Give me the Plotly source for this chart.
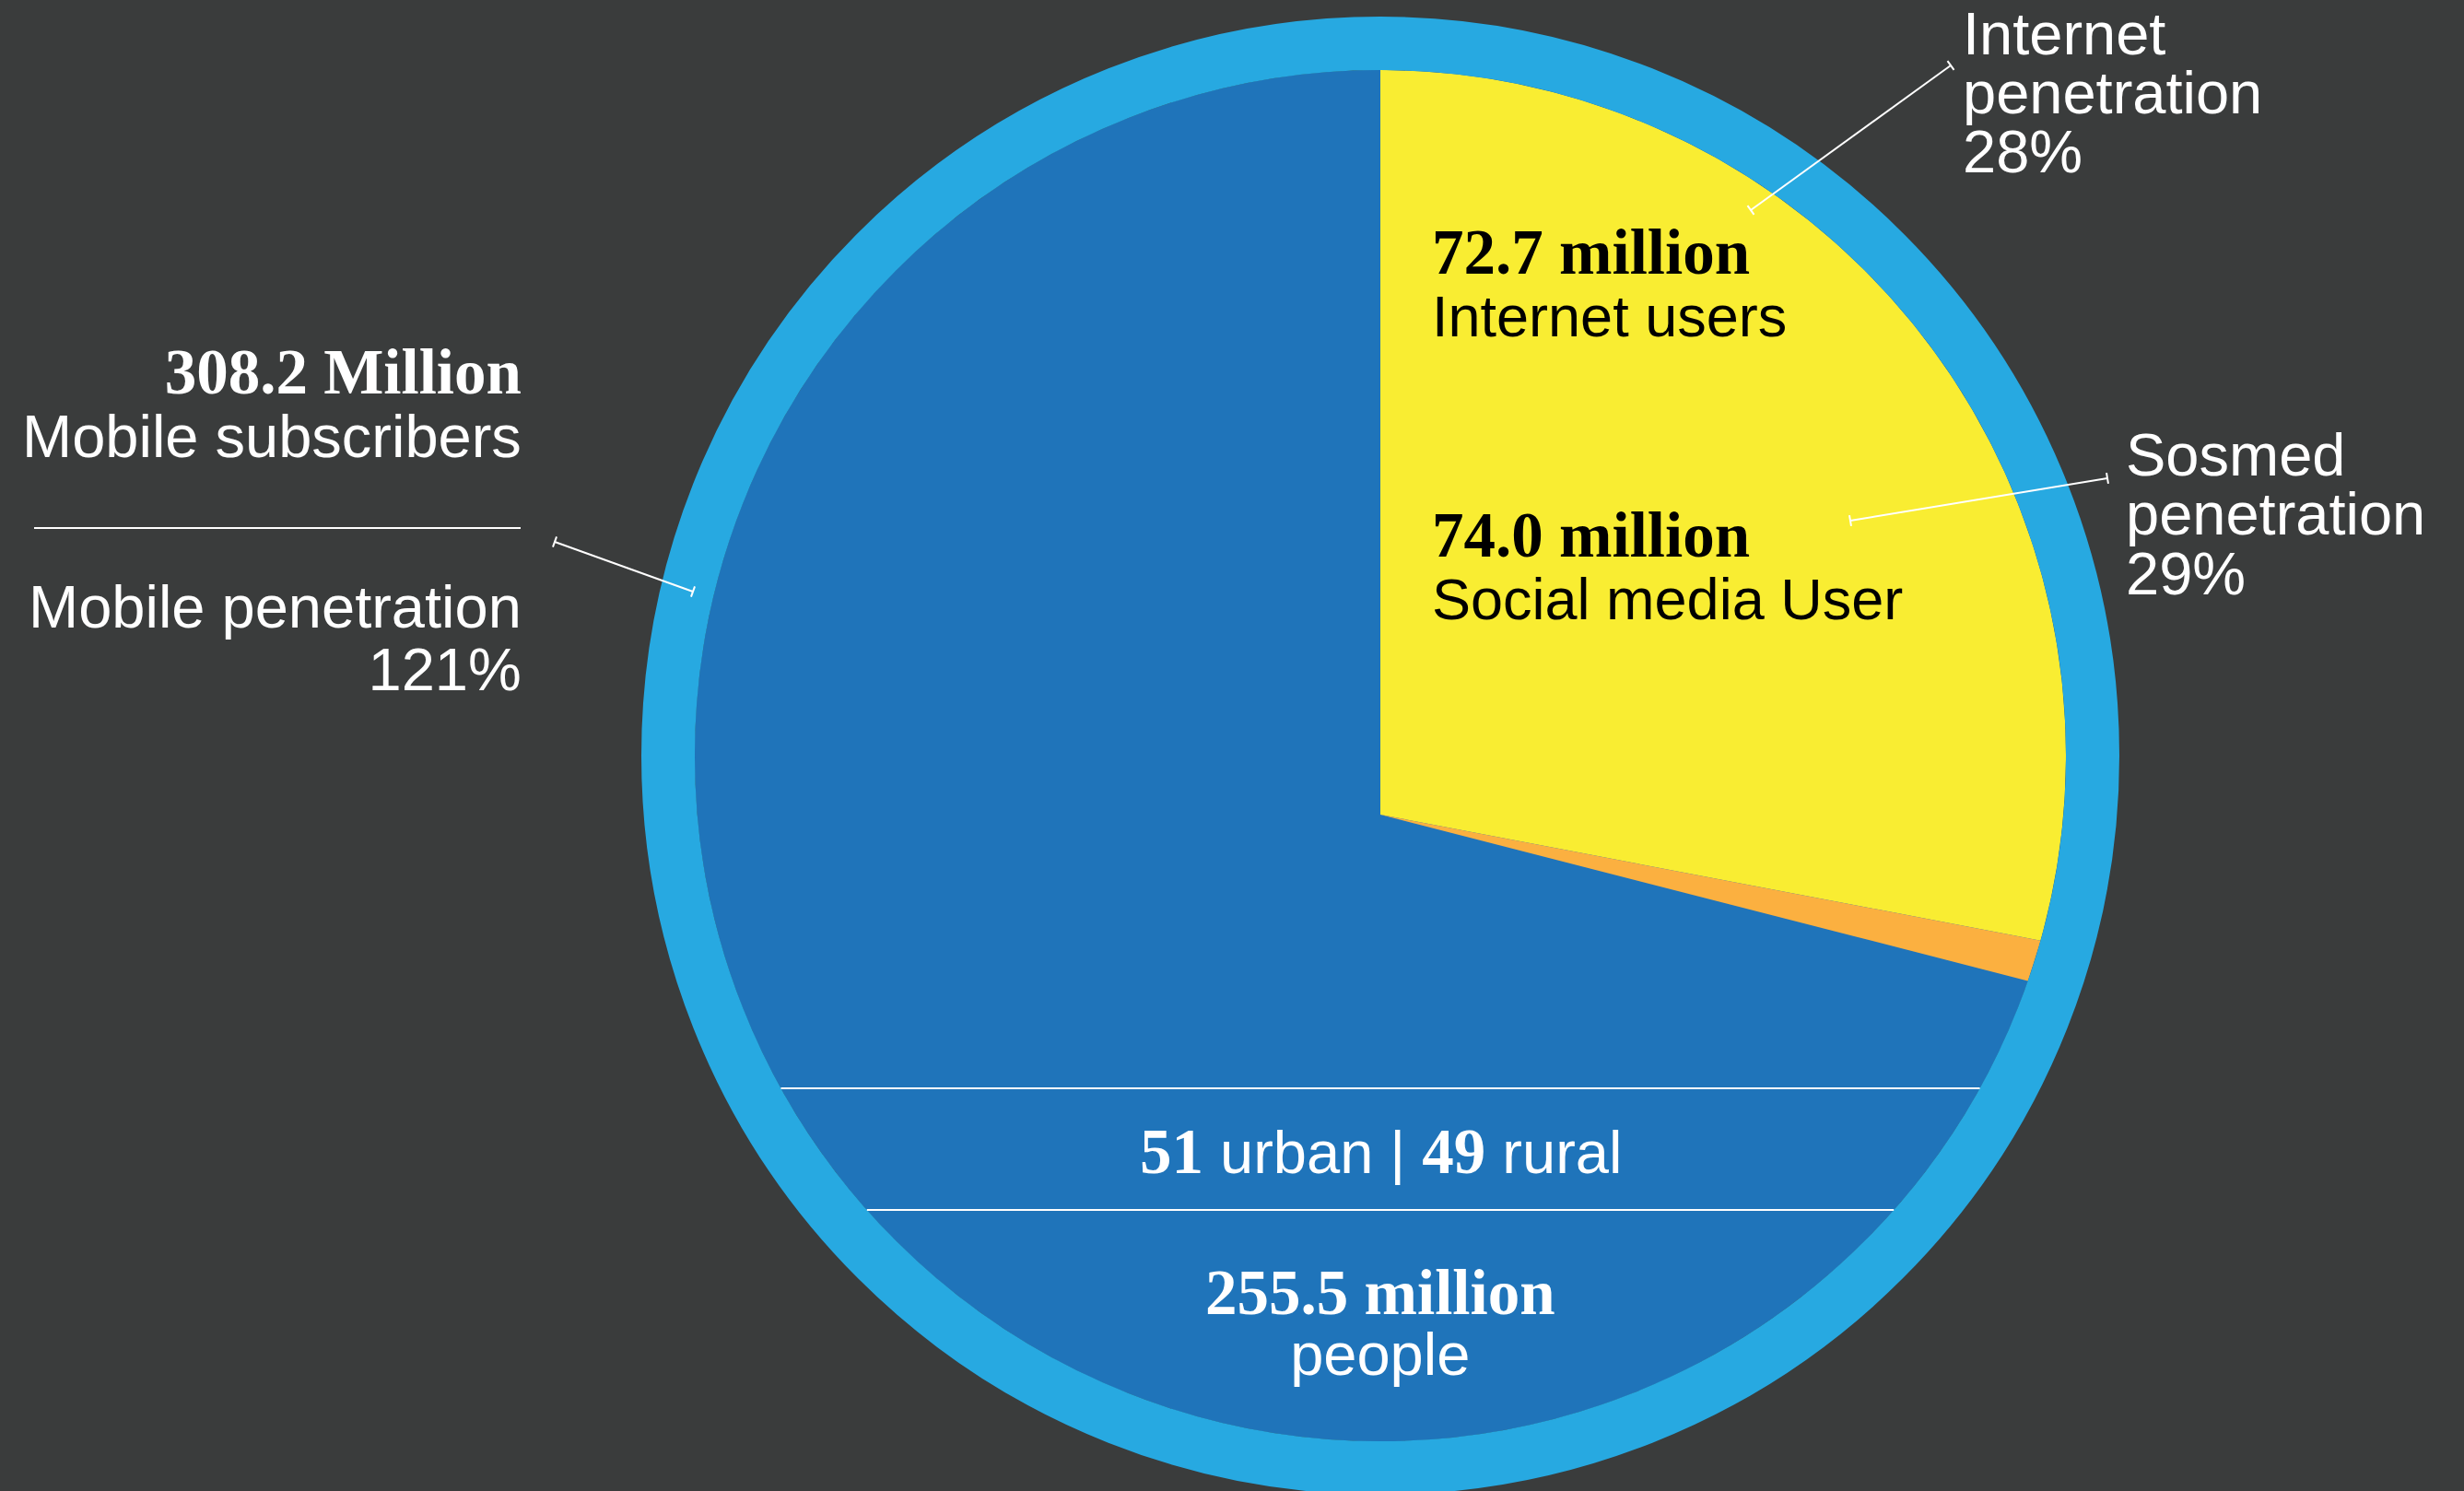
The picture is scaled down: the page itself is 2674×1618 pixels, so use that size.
import math
import plotly.graph_objects as go

# ---- data -------------------------------------------------------------
population_m = 255.5            # total population, millions
internet_users_m = 72.7         # internet users, millions
social_users_m = 74.0           # social media users, millions
mobile_subscribers_m = 308.2    # mobile subscriptions, millions
penetration_names = ["Internet", "Sosmed"]
penetration_pct = [28, 29]      # share of population
mobile_penetration_pct = 121
urban_rural_pct = [51, 49]

# ---- canvas / geometry (axis units are pixels, y grows downwards) ------
W, H = 2674, 1618
CX, CY = 1498, 820          # centre of the population disc
R_IN = 744                   # radius of the dark-blue disc
RING = 58                    # light-blue rim thickness
APEX = (1498, 884)           # common vertex of the penetration wedges

BG = "#3a3c3c"
RIM = "#27a9e1"
BLUE = "#1f74ba"
YELLOW = "#f9ed32"
ORANGE = "#fbb040"
WHITE = "#ffffff"
BLACK = "#000000"

SANS = "Liberation Sans"
SERIF = "Liberation Serif"
SANS_LIGHT_SIZE = 65         # white captions
SANS_DARK_SIZE = 63          # black captions on yellow
SERIF_SIZE = 69
DESCENT = {SANS: 0.212, SERIF: 0.216}
LINE_SPACING = 1.3           # plotly's line height, in em of the base font


def ray_hit(theta):
    """Point where a ray from APEX (clockwise angle from 12 o'clock)
    meets the disc edge."""
    dx, dy = math.sin(theta), -math.cos(theta)
    ax, ay = APEX[0] - CX, APEX[1] - CY
    b = dx * ax + dy * ay
    c = ax * ax + ay * ay - R_IN ** 2
    t = -b + math.sqrt(b * b - c)
    return APEX[0] + t * dx, APEX[1] + t * dy


def edge_angle(x, y):
    return math.atan2(x - CX, -(y - CY))


def wedge(start_pct, end_pct, steps_per_rad=120):
    """Polygon for a slice spanning start_pct..end_pct of the whole."""
    t0 = 2 * math.pi * start_pct / 100
    t1 = 2 * math.pi * end_pct / 100
    p0, p1 = ray_hit(t0), ray_hit(t1)
    a0, a1 = edge_angle(*p0), edge_angle(*p1)
    while a1 < a0 - 1e-9:
        a1 += 2 * math.pi
    if end_pct - start_pct >= 100 - 1e-9:
        a1 = a0 + 2 * math.pi
    n = max(2, int((a1 - a0) * steps_per_rad))
    xs, ys = [APEX[0]], [APEX[1]]
    for k in range(n + 1):
        a = a0 + (a1 - a0) * k / n
        xs.append(CX + R_IN * math.sin(a))
        ys.append(CY - R_IN * math.cos(a))
    xs.append(APEX[0])
    ys.append(APEX[1])
    return xs, ys


fig = go.Figure()

# Slices: internet users, extra social-media users, rest of the population
bounds = [0, penetration_pct[0], penetration_pct[1], 100]
names = ["Internet penetration", "Sosmed penetration", "Rest of population"]
colors = [YELLOW, ORANGE, BLUE]
for i in (2, 0, 1):
    xs, ys = wedge(bounds[i], bounds[i + 1])
    fig.add_trace(go.Scatter(
        x=xs, y=ys, mode="lines", fill="toself", fillcolor=colors[i],
        line=dict(width=0, color=colors[i]), name=names[i],
        hoverinfo="skip", showlegend=False,
    ))

annotations = []


def block(lines, x, first_baseline, spacing, xanchor="left", color=WHITE):
    """Multi-line text with a tight, fixed line pitch.

    lines: list of (text, family, size, bold)."""
    base = spacing / LINE_SPACING
    parts = []
    for txt, fam, size, bold in lines:
        weight = "bold" if bold else "normal"
        parts.append(f'<span style="font-family:{fam};font-size:{size}px;'
                     f'font-weight:{weight}">{txt}</span>')
    last_txt, last_fam, last_size, _ = lines[-1]
    last_base = first_baseline + spacing * (len(lines) - 1)
    annotations.append(dict(
        text="<br>".join(parts), x=x, y=last_base + DESCENT[last_fam] * last_size + 1,
        xref="x", yref="y", xanchor=xanchor, yanchor="bottom", align=xanchor,
        showarrow=False, font=dict(family=SANS, size=base, color=color),
    ))


def sans(txt, size=SANS_LIGHT_SIZE):
    return (txt, SANS, size, False)


def serif(txt):
    return (txt, SERIF, SERIF_SIZE, True)


# Penetration call-outs (top right)
block([sans(penetration_names[0]), sans("penetration"),
       sans(f"{penetration_pct[0]}%")], 2128, 60, 64)
block([sans(penetration_names[1]), sans("penetration"),
       sans(f"{penetration_pct[1]}%")], 2305, 517, 64.5)

# Labels inside the yellow wedge
block([serif(f"{internet_users_m:.1f} million"),
       sans("Internet users", SANS_DARK_SIZE)], 1552, 298, 68, color=BLACK)
block([serif(f"{social_users_m:.1f} million"),
       sans("Social media User", SANS_DARK_SIZE)], 1552, 605, 68, color=BLACK)

# Mobile block (left)
block([serif(f"{mobile_subscribers_m:.1f} Million"),
       sans("Mobile subscribers")], 568, 428, 69, xanchor="right")
block([sans("Mobile penetration"),
       sans(f"{mobile_penetration_pct}%")], 568, 682, 68, xanchor="right")

# Population band (bottom of disc)
num_style = f"font-family:{SERIF};font-weight:bold;font-size:{SERIF_SIZE}px"
annotations.append(dict(
    text=(f'<span style="{num_style}">{urban_rural_pct[0]}</span> urban | '
          f'<span style="{num_style}">{urban_rural_pct[1]}</span> rural'),
    x=1498, y=1274 + DESCENT[SERIF] * SERIF_SIZE + 1, xref="x", yref="y",
    xanchor="center", yanchor="bottom", showarrow=False,
    font=dict(family=SANS, size=SANS_LIGHT_SIZE, color=WHITE),
))
block([serif(f"{population_m:.1f} million"), sans("people")],
      1498, 1427, 66, xanchor="center")

# Disc base (under the slices) and rim (over them)
shapes = [
    dict(type="circle", xref="x", yref="y", layer="below",
         x0=CX - R_IN, x1=CX + R_IN, y0=CY - R_IN, y1=CY + R_IN,
         fillcolor=BLUE, line=dict(width=0)),
    dict(type="circle", xref="x", yref="y", layer="above",
         x0=CX - R_IN - RING / 2, x1=CX + R_IN + RING / 2,
         y0=CY - R_IN - RING / 2, y1=CY + R_IN + RING / 2,
         fillcolor="rgba(0,0,0,0)", line=dict(color=RIM, width=RING)),
]


def seg(x0, y0, x1, y1, width=2):
    shapes.append(dict(type="line", xref="x", yref="y", layer="above",
                       x0=x0, y0=y0, x1=x1, y1=y1,
                       line=dict(color=WHITE, width=width)))


def leader(x0, y0, x1, y1, tick=6):
    seg(x0, y0, x1, y1)
    L = math.hypot(x1 - x0, y1 - y0)
    nx, ny = -(y1 - y0) / L, (x1 - x0) / L
    for (x, y) in [(x0, y0), (x1, y1)]:
        seg(x - nx * tick, y - ny * tick, x + nx * tick, y + ny * tick)


leader(1900, 228, 2117, 71)     # internet
leader(2008, 565, 2287, 519)    # social media
leader(602, 588, 752, 642)      # mobile

# Rule between the two mobile figures
seg(37, 573, 565, 573)

# Chords across the disc framing the urban / rural band
for y in (1181, 1313):
    half = math.sqrt(R_IN ** 2 - (y - CY) ** 2)
    seg(CX - half, y, CX + half, y)

fig.update_layout(
    width=W, height=H,
    margin=dict(l=0, r=0, t=0, b=0, pad=0),
    paper_bgcolor=BG, plot_bgcolor=BG,
    showlegend=False,
    xaxis=dict(range=[0, W], visible=False, fixedrange=True, domain=[0, 1]),
    yaxis=dict(range=[H, 0], visible=False, fixedrange=True, domain=[0, 1]),
    annotations=annotations,
    shapes=shapes,
)

fig.write_html("out.html")
